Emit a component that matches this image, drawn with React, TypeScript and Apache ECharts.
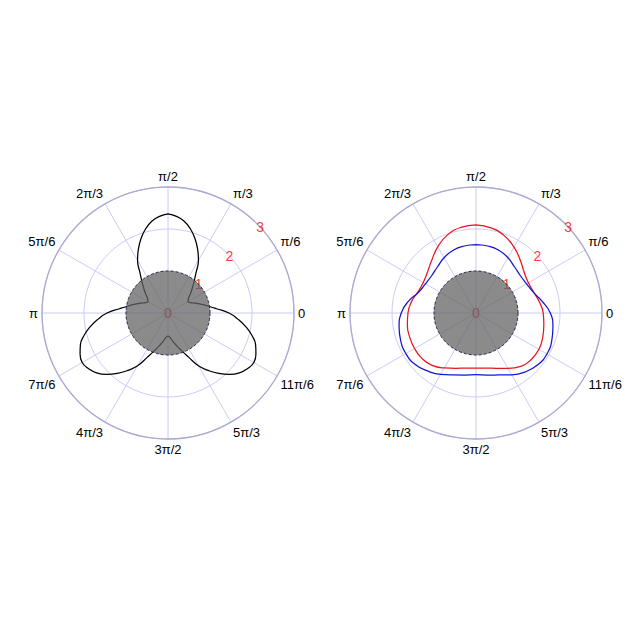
import React, { useEffect, useRef } from "react";
import * as echarts from "echarts";

// Angle tick values (degrees) and their labels
const ANGLE_TICKS = [0, 30, 60, 90, 120, 150, 180, 210, 240, 270, 300, 330];
const ANGLE_LABELS = ["0", "π/6", "π/3", "π/2", "2π/3", "5π/6", "π", "7π/6", "4π/3", "3π/2", "5π/3", "11π/6"];

// Radius tick labels
const RADIUS_LABELS = [0, 1, 2, 3];

// Shaded disk radius
const DISK_RADIUS = [1];

// Left plot: three-lobed curve (starting at the top lobe, going round once)
const LEFT_ANGLES = [
  90, 95, 100, 105, 110, 115, 120, 125, 130, 135, 140, 145, 150, 155, 160, 165, 170, 175, 180,
  185, 190, 195, 200, 205, 210, 215, 220, 225, 230, 235, 240, 245, 250, 255, 260, 265, 270,
  275, 280, 285, 290, 295, 300, 305, 310, 315, 320, 325, 330, 335, 340, 345, 350, 355, 0,
  5, 10, 15, 20, 25, 30, 35, 40, 45, 50, 55, 60, 65, 70, 75, 80, 85, 90,
];
const LEFT_R = [
  2.36, 2.31, 2.22, 2.07, 1.88, 1.67, 1.45, 1.16, 0.96, 0.81, 0.69, 0.59, 0.55, 0.59, 0.69, 0.81, 0.96, 1.16, 1.45,
  1.67, 1.88, 2.07, 2.22, 2.31, 2.36, 2.31, 2.22, 2.07, 1.88, 1.67, 1.45, 1.16, 0.96, 0.81, 0.69, 0.59, 0.55,
  0.59, 0.69, 0.81, 0.96, 1.16, 1.45, 1.67, 1.88, 2.07, 2.22, 2.31, 2.36, 2.31, 2.22, 2.07, 1.88, 1.67, 1.45,
  1.16, 0.96, 0.81, 0.69, 0.59, 0.55, 0.59, 0.69, 0.81, 0.96, 1.16, 1.45, 1.67, 1.88, 2.07, 2.22, 2.31, 2.36,
];

// Right plot: red and blue curves (starting at the top, going round once)
const RIGHT_ANGLES = [
  90, 100, 110, 120, 130, 140, 150, 160, 170, 180, 190, 200, 210, 220, 230, 240, 250, 260, 270,
  280, 290, 300, 310, 320, 330, 340, 350, 0, 10, 20, 30, 40, 50, 60, 70, 80, 90,
];
const RED_R = [
  2.1, 2.07, 1.98, 1.82, 1.64, 1.51, 1.45, 1.47, 1.56, 1.62, 1.66, 1.68, 1.69, 1.68, 1.63, 1.51, 1.4, 1.33, 1.31,
  1.33, 1.4, 1.52, 1.66, 1.72, 1.73, 1.69, 1.64, 1.6, 1.53, 1.46, 1.44, 1.5, 1.64, 1.81, 1.96, 2.06, 2.1,
];
const BLUE_R = [
  1.63, 1.62, 1.59, 1.52, 1.43, 1.38, 1.39, 1.45, 1.63, 1.78, 1.86, 1.91, 1.93, 1.9, 1.8, 1.69, 1.57, 1.5, 1.47,
  1.5, 1.57, 1.7, 1.83, 1.92, 1.95, 1.92, 1.86, 1.77, 1.6, 1.45, 1.39, 1.38, 1.43, 1.52, 1.59, 1.62, 1.63,
];

const FONT = "'Liberation Sans', Arial, Helvetica, sans-serif";
const LABEL_ANGLE = 43;

function angleAxis(polarIndex: number) {
  return {
    polarIndex,
    type: "value",
    min: 0,
    max: 360,
    interval: 30,
    startAngle: 0,
    clockwise: false,
    axisLine: { show: true, lineStyle: { color: "#aaaad2", width: 1.3 } },
    axisTick: { show: false },
    splitLine: { show: true, lineStyle: { color: "#cbcbf6", width: 1 } },
    axisLabel: {
      show: true,
      margin: 4,
      color: "#000",
      fontSize: 13,
      fontFamily: FONT,
      formatter: (v: number) => {
        const i = ANGLE_TICKS.indexOf(v);
        return i >= 0 ? ANGLE_LABELS[i] : "";
      },
    },
  };
}

function radiusAxis(polarIndex: number) {
  return {
    polarIndex,
    type: "value",
    min: 0,
    max: 3,
    interval: 1,
    axisLine: { show: false },
    axisTick: { show: false },
    axisLabel: { show: false },
    splitLine: { show: true, lineStyle: { color: "#cbcbf6", width: 1 } },
  };
}

function diskSeries(polarIndex: number) {
  return {
    type: "custom",
    coordinateSystem: "polar",
    polarIndex,
    silent: true,
    z: 5,
    data: DISK_RADIUS.map((r) => [r, 0]),
    renderItem: (_params: any, api: any) => {
      const c = api.coord([0, 0]);
      const e = api.coord([api.value(0), 0]);
      const r = Math.hypot(e[0] - c[0], e[1] - c[1]);
      return {
        type: "circle",
        shape: { cx: c[0], cy: c[1], r },
        style: {
          fill: "rgba(98,98,98,0.74)",
          stroke: "#30303c",
          lineWidth: 1,
          lineDash: [3, 2],
        },
      };
    },
  };
}

function labelSeries(polarIndex: number) {
  return {
    type: "scatter",
    coordinateSystem: "polar",
    polarIndex,
    silent: true,
    z: 3,
    symbolSize: 0,
    data: RADIUS_LABELS.map((v) => [v, LABEL_ANGLE]),
    label: {
      show: true,
      position: "inside",
      color: "#ff0000",
      fontSize: 14,
      fontFamily: FONT,
      formatter: (p: any) => String(p.value[0]),
    },
  };
}

function curve(polarIndex: number, angles: number[], rs: number[], color: string, width: number) {
  return {
    type: "line",
    coordinateSystem: "polar",
    polarIndex,
    silent: true,
    z: 2,
    showSymbol: false,
    smooth: 0.5,
    data: rs.map((r, i) => [r, angles[i]]),
    lineStyle: { color, width },
  };
}

export default function App() {
  const ref = useRef<HTMLDivElement>(null);
  useEffect(() => {
    if (!ref.current) return;
    const chart = echarts.init(ref.current, undefined, { renderer: "svg" });
    chart.setOption({
      animation: false,
      backgroundColor: "#ffffff",
      polar: [
        { center: [168, 313], radius: 126 },
        { center: [476, 313], radius: 126 },
      ],
      angleAxis: [angleAxis(0), angleAxis(1)],
      radiusAxis: [radiusAxis(0), radiusAxis(1)],
      series: [
        curve(0, LEFT_ANGLES, LEFT_R, "#000000", 1.25),
        curve(1, RIGHT_ANGLES, RED_R, "#e8141e", 1.25),
        curve(1, RIGHT_ANGLES, BLUE_R, "#1414d2", 1.25),
        labelSeries(0),
        labelSeries(1),
        diskSeries(0),
        diskSeries(1),
      ],
    });
    return () => chart.dispose();
  }, []);
  return (
    <div
      ref={ref}
      style={{ position: "absolute", left: 0, top: 0, width: 640, height: 640 }}
    />
  );
}
